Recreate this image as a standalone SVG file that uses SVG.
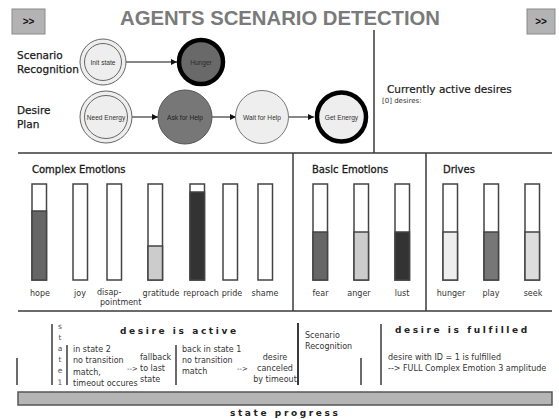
<svg xmlns="http://www.w3.org/2000/svg" width="559" height="419" viewBox="0 0 559 419">
<defs>
<marker id="ah" viewBox="0 0 10 10" refX="10" refY="5" markerWidth="6" markerHeight="6" markerUnits="userSpaceOnUse" orient="auto"><path d="M0,0 L10,5 L0,10 Z" fill="#111"/></marker>
<style>
.btn{fill:#b3b3b3;stroke:#8a8a8a;stroke-width:1}
.btnt{font-family:"Liberation Sans",Arial,sans-serif;font-size:10px;font-weight:bold;fill:#111;text-anchor:middle}
.title{font-family:"Liberation Sans",Arial,sans-serif;font-size:20.3px;font-weight:bold;fill:#7a7a7a;text-anchor:middle}
.lbl{font-family:"DejaVu Sans",Verdana,sans-serif;font-size:10.5px;fill:#1a1a1a;stroke:#1a1a1a;stroke-width:0.25}
.hdr{font-family:"DejaVu Sans",Verdana,sans-serif;font-size:10px;fill:#1a1a1a;stroke:#1a1a1a;stroke-width:0.3}
.small{font-family:"DejaVu Sans",Verdana,sans-serif;font-size:7px;fill:#333}
.nt{font-family:"Liberation Sans",Arial,sans-serif;font-size:6.6px;fill:#333;text-anchor:middle}
.sep{stroke:#3a3a3a;stroke-width:1.5;fill:none}
.bar{fill:#fff;stroke:#444;stroke-width:1.5}
.bl{font-family:"DejaVu Sans",Verdana,sans-serif;font-size:8px;fill:#333;text-anchor:middle}
.tx{font-family:"DejaVu Sans",Verdana,sans-serif;font-size:8px;fill:#333}
.big{font-family:"DejaVu Sans",Verdana,sans-serif;font-size:9px;font-weight:bold;fill:#222;letter-spacing:2.6px}
.conn{stroke:#111;stroke-width:1;fill:none;marker-end:url(#ah)}
</style>
</defs>
<rect width="559" height="419" fill="#fff"/>

<g id="btn-left"><rect class="btn" x="12" y="9" width="33" height="25"/><text class="btnt" x="28.5" y="25">&gt;&gt;</text></g>
<g id="btn-right"><rect class="btn" x="527" y="9" width="28" height="25"/><text class="btnt" x="541" y="25">&gt;&gt;</text></g>
<text class="title" x="280" y="25">AGENTS SCENARIO DETECTION</text>

<text class="lbl" x="17" y="59">Scenario</text>
<text class="lbl" x="17" y="73">Recognition</text>
<text class="lbl" x="17" y="114">Desire</text>
<text class="lbl" x="17" y="128">Plan</text>

<g id="connectors">
<line class="conn" x1="126" y1="62" x2="177" y2="62"/>
<line class="conn" x1="132" y1="117" x2="158" y2="117"/>
<line class="conn" x1="212" y1="117" x2="236" y2="117"/>
<line class="conn" x1="289" y1="117" x2="314" y2="117"/>
</g>

<g id="node-init-state"><circle cx="103" cy="62" r="23" fill="#eee" stroke="#666" stroke-width="1"/><circle cx="103" cy="62" r="18.5" fill="none" stroke="#666" stroke-width="1"/><text class="nt" x="103" y="64.5">Init state</text></g>
<g id="node-hunger"><circle cx="201" cy="62" r="22" fill="#696969" stroke="#000" stroke-width="4.5"/><text class="nt" x="201" y="64.5" style="fill:#2a2a2a">Hunger</text></g>
<g id="node-need-energy"><circle cx="106" cy="117" r="26" fill="#eee" stroke="#666" stroke-width="1"/><circle cx="106" cy="117" r="21.5" fill="none" stroke="#666" stroke-width="1"/><text class="nt" x="106" y="119.5">Need Energy</text></g>
<g id="node-ask-for-help"><circle cx="185" cy="117" r="27" fill="#777" stroke="#555" stroke-width="1"/><text class="nt" x="185" y="119.5" style="fill:#222">Ask for Help</text></g>
<g id="node-wait-for-help"><circle cx="262" cy="117" r="26.5" fill="#eee" stroke="#777" stroke-width="1"/><text class="nt" x="262" y="119.5">Wait for Help</text></g>
<g id="node-get-energy"><circle cx="341.5" cy="117" r="24.5" fill="#eee" stroke="#000" stroke-width="4.5"/><text class="nt" x="341.5" y="119.5">Get Energy</text></g>

<text class="lbl" x="387" y="93" style="stroke-width:0.2">Currently active desires</text>
<text class="small" x="382" y="103">[0] desires:</text>

<g id="frames">
<line class="sep" x1="374" y1="30" x2="374" y2="153"/>
<line class="sep" x1="18" y1="153" x2="552" y2="153"/>
<line class="sep" x1="293" y1="153" x2="293" y2="311"/>
<line class="sep" x1="426" y1="153" x2="426" y2="311"/>
<line class="sep" x1="18" y1="311" x2="552" y2="311"/>
</g>

<text class="hdr" x="32" y="173">Complex Emotions</text>
<text class="hdr" x="312" y="173">Basic Emotions</text>
<text class="hdr" x="443" y="173">Drives</text>

<g id="bar-hope"><rect class="bar" x="32" y="184" width="14.5" height="96"/><rect x="32" y="211" width="14.5" height="69" fill="#666" stroke="#444" stroke-width="1.5"/><text class="bl" x="40" y="296">hope</text></g>
<g id="bar-joy"><rect class="bar" x="73" y="184" width="14.5" height="96"/><text class="bl" x="80" y="296">joy</text></g>
<g id="bar-disappointment"><rect class="bar" x="107" y="184" width="14.5" height="96"/><text class="tx" x="97" y="295">disap-</text><text class="tx" x="100" y="305">pointment</text></g>
<g id="bar-gratitude"><rect class="bar" x="148" y="184" width="14.5" height="96"/><rect x="148" y="246" width="14.5" height="34" fill="#ccc" stroke="#444" stroke-width="1.5"/><text class="bl" x="161" y="296">gratitude</text></g>
<g id="bar-reproach"><rect class="bar" x="190" y="184" width="14.5" height="96"/><rect x="190" y="192" width="14.5" height="88" fill="#333" stroke="#444" stroke-width="1.5"/><text class="bl" x="201" y="296">reproach</text></g>
<g id="bar-pride"><rect class="bar" x="223" y="184" width="14.5" height="96"/><text class="bl" x="232" y="296">pride</text></g>
<g id="bar-shame"><rect class="bar" x="258" y="184" width="14.5" height="96"/><text class="bl" x="265" y="296">shame</text></g>
<g id="bar-fear"><rect class="bar" x="313" y="184" width="14.5" height="96"/><rect x="313" y="232" width="14.5" height="48" fill="#666" stroke="#444" stroke-width="1.5"/><text class="bl" x="320.5" y="296">fear</text></g>
<g id="bar-anger"><rect class="bar" x="354" y="184" width="14.5" height="96"/><rect x="354" y="232" width="14.5" height="48" fill="#ccc" stroke="#444" stroke-width="1.5"/><text class="bl" x="359" y="296">anger</text></g>
<g id="bar-lust"><rect class="bar" x="395" y="184" width="14.5" height="96"/><rect x="395" y="232" width="14.5" height="48" fill="#333" stroke="#444" stroke-width="1.5"/><text class="bl" x="402" y="296">lust</text></g>
<g id="bar-hunger"><rect class="bar" x="443" y="184" width="14.5" height="96"/><rect x="443" y="232" width="14.5" height="48" fill="#eee" stroke="#444" stroke-width="1.5"/><text class="bl" x="451" y="296">hunger</text></g>
<g id="bar-play"><rect class="bar" x="484" y="184" width="14.5" height="96"/><rect x="484" y="232" width="14.5" height="48" fill="#777" stroke="#444" stroke-width="1.5"/><text class="bl" x="491" y="296">play</text></g>
<g id="bar-seek"><rect class="bar" x="525" y="184" width="14.5" height="96"/><rect x="525" y="232" width="14.5" height="48" fill="#ddd" stroke="#444" stroke-width="1.5"/><text class="bl" x="533" y="296">seek</text></g>

<g id="timeline">
<line class="sep" x1="17" y1="358" x2="17" y2="385"/>
<line class="sep" x1="52" y1="324" x2="52" y2="385"/>
<g class="tx" style="fill:#555;text-anchor:middle;font-size:7.5px">
<text x="60" y="329">s</text><text x="60" y="340">t</text><text x="60" y="351">a</text><text x="60" y="362">t</text><text x="60" y="373">e</text><text x="60" y="385">1</text>
</g>
<line class="sep" x1="67" y1="345" x2="67" y2="385"/>
<text class="big" x="120" y="334">desire is active</text>
<text class="tx" x="73" y="352">in state 2</text>
<text class="tx" x="73" y="363">no transition</text>
<text class="tx" x="73" y="375">match,</text>
<text class="tx" x="73" y="386">timeout occures</text>
<text class="tx" x="127" y="371" style="font-size:7px">--&gt;</text>
<text class="tx" x="140" y="360">fallback</text>
<text class="tx" x="140" y="371">to last</text>
<text class="tx" x="140" y="382">state</text>
<line class="sep" x1="176" y1="345" x2="176" y2="385"/>
<text class="tx" x="182" y="352">back in state 1</text>
<text class="tx" x="182" y="363">no transition</text>
<text class="tx" x="182" y="374">match</text>
<text class="tx" x="237" y="371" style="font-size:7px">--&gt;</text>
<text class="tx" x="275" y="360" style="text-anchor:middle">desire</text>
<text class="tx" x="275" y="371" style="text-anchor:middle">canceled</text>
<text class="tx" x="275" y="382" style="text-anchor:middle">by timeout</text>
<line class="sep" x1="298" y1="323" x2="298" y2="385" style="stroke-width:2"/>
<text class="tx" x="305" y="338">Scenario</text>
<text class="tx" x="305" y="349">Recognition</text>
<line class="sep" x1="361" y1="358" x2="361" y2="385"/>
<line class="sep" x1="381" y1="324" x2="381" y2="385"/>
<text class="big" x="395" y="333">desire is fulfilled</text>
<text class="tx" x="388" y="360">desire with ID = 1 is fulfilled</text>
<text class="tx" x="388" y="371">--&gt; FULL Complex Emotion 3 amplitude</text>
<rect x="18" y="392" width="534" height="13" fill="#b5b5b5" stroke="#555" stroke-width="1.5"/>
<text class="big" x="230" y="416">state progress</text>
</g>
</svg>
